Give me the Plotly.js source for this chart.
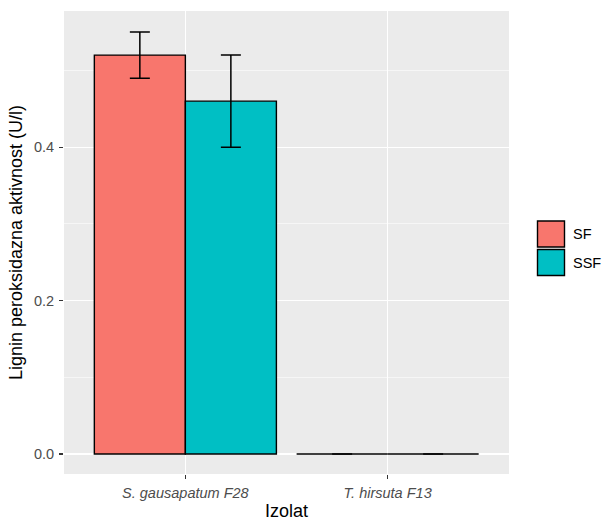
<!DOCTYPE html>
<html>
<head>
<meta charset="utf-8">
<script src="https://cdn.plot.ly/plotly-3.0.1.min.js"></script>
<style>html,body{margin:0;padding:0;background:#fff;}</style>
</head>
<body>
<div id="chart" style="width:602px;height:521px;"></div>
<script>
const categories = ["S. gausapatum F28", "T. hirsuta F13"];
const seriesNames = ["SF", "SSF"];
const sfValues = [0.52, 0];
const sfErr = [0.03, 0];
const ssfValues = [0.46, 0];
const ssfErr = [0.06, 0];
const colors = ["#F8766D", "#00BFC4"];

const font = "Liberation Sans, Arial, Helvetica, sans-serif";
const seriesVals = [sfValues, ssfValues];
const seriesErr = [sfErr, ssfErr];

const traces = seriesNames.map((name, i) => ({
  type: "bar",
  name: name,
  x: categories,
  y: seriesVals[i],
  marker: {color: colors[i], line: {color: "#000000", width: 1.4}},
  error_y: {type: "data", array: seriesErr[i], visible: true, color: "#000000", thickness: 1.5, width: 10},
  showlegend: false,
  hoverinfo: "x+y"
}));

// custom ggplot-style legend
const shapes = [];
const annotations = [];
const keyTops = [220, 248.5];
const keyH = 28;
const plotTop = 11, plotBottom = 474, plotLeft = 64, plotRight = 509;
const ph = plotBottom - plotTop, pw = plotRight - plotLeft;
function px2x(px){ return (px - plotLeft) / pw; }
function px2y(py){ return (plotBottom - py) / ph; }
seriesNames.forEach((name, i) => {
  shapes.push({
    type: "rect", xref: "paper", yref: "paper",
    x0: px2x(537.5), x1: px2x(564.5),
    y0: px2y(keyTops[i] + keyH - 1), y1: px2y(keyTops[i] + 1),
    fillcolor: colors[i], line: {color: "#000000", width: 1.4}
  });
  annotations.push({
    xref: "paper", yref: "paper", x: px2x(571), y: px2y(keyTops[i] + keyH / 2),
    xanchor: "left", yanchor: "middle", showarrow: false,
    text: name, font: {family: font, size: 14.5, color: "#000000"}
  });
});

const layout = {
  width: 602, height: 521,
  margin: {l: 64, r: 93, t: 11, b: 47, pad: 0},
  paper_bgcolor: "#FFFFFF",
  plot_bgcolor: "#EBEBEB",
  barmode: "group",
  bargap: 0.1,
  bargroupgap: 0,
  showlegend: false,
  font: {family: font},
  xaxis: {
    type: "category",
    range: [-0.6, 1.6],
    showgrid: true, gridcolor: "#FFFFFF", gridwidth: 1.1,
    zeroline: false, showline: false,
    ticks: "outside", ticklen: 4, tickwidth: 1.1, tickcolor: "#333333",
    ticklabelstandoff: 2,
    tickfont: {family: font, size: 14.5, color: "#4D4D4D", style: "italic"},
    title: {text: "Izolat", font: {family: font, size: 18, color: "#000000"}, standoff: 3},
    fixedrange: true
  },
  yaxis: {
    range: [-0.026, 0.5775],
    tickvals: [0, 0.2, 0.4],
    ticktext: ["0.0", "0.2", "0.4"],
    showgrid: true, gridcolor: "#FFFFFF", gridwidth: 1.1,
    minor: {tickvals: [0.1, 0.3, 0.5], showgrid: true, gridcolor: "#FFFFFF", gridwidth: 0.55, ticks: ""},
    zeroline: false, showline: false,
    ticks: "outside", ticklen: 4, tickwidth: 1.1, tickcolor: "#333333",
    ticklabelstandoff: 2,
    tickfont: {family: font, size: 14.5, color: "#4D4D4D"},
    title: {text: "Lignin peroksidazna aktivnost (U/l)", font: {family: font, size: 18, color: "#000000"}, standoff: 6},
    fixedrange: true
  },
  shapes: shapes,
  annotations: annotations
};

Plotly.newPlot("chart", traces, layout, {displayModeBar: false, staticPlot: true});
</script>
</body>
</html>
